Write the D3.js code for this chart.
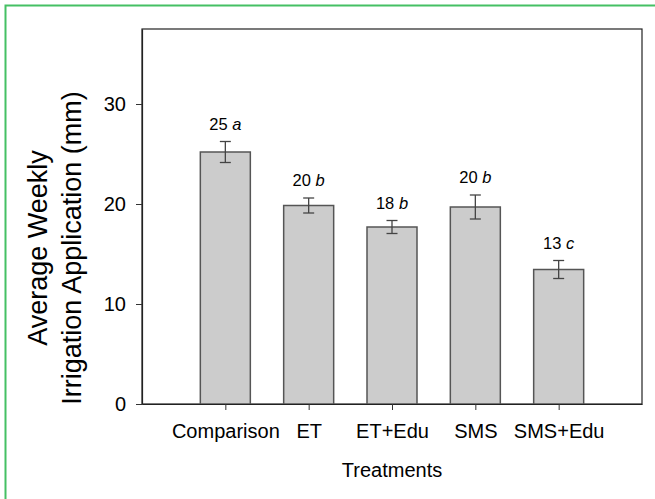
<!DOCTYPE html>
<html>
<head>
<meta charset="utf-8">
<script src="https://cdn.jsdelivr.net/npm/d3@7"></script>
<style>
  body { margin: 0; background: #fff; }
  svg text { font-family: "Liberation Sans", Arial, sans-serif; fill: #000; }
</style>
</head>
<body>
<div id="chart"></div>
<script>
// chart data
const treatments = ["Comparison", "ET", "ET+Edu", "SMS", "SMS+Edu"];
const means = [25.2, 19.85, 17.7, 19.7, 13.45];
const errors = [1.05, 0.75, 0.65, 1.2, 0.9];
const meanLabels = ["25", "20", "18", "20", "13"];
const groupLetters = ["a", "b", "b", "b", "c"];
const yTicks = [0, 10, 20, 30];

const width = 655;
const height = 499;
const margin = { top: 29, left: 142, right: 13, bottom: 95 };

const svg = d3.select("#chart")
    .append("svg")
    .attr("width", width)
    .attr("height", height);

// green page border (runs off the right and bottom edges)
svg.append("path")
    .attr("d", `M5.5,${height} V5.5 H${width}`)
    .attr("fill", "none")
    .attr("stroke", "#45c064")
    .attr("stroke-width", 2);

// x is linear: categories sit at 1..5 on a 0..6 axis
const xScale = d3.scaleLinear()
    .domain([0, treatments.length + 1])
    .range([margin.left, width - margin.right]);

const yScale = d3.scaleLinear()
    .domain([0, 37.5])
    .range([height - margin.bottom, margin.top]);

const barW = 50;

// plot frame
svg.append("rect")
    .attr("x", margin.left)
    .attr("y", margin.top)
    .attr("width", width - margin.left - margin.right)
    .attr("height", height - margin.top - margin.bottom)
    .attr("fill", "none")
    .attr("stroke", "#222")
    .attr("stroke-width", 1.2);

// bars
svg.selectAll("rect.bar")
    .data(means)
    .enter()
    .append("rect")
    .attr("class", "bar")
    .attr("x", (d, i) => xScale(i + 1) - barW / 2)
    .attr("y", d => yScale(d))
    .attr("width", barW)
    .attr("height", d => yScale(0) - yScale(d))
    .attr("fill", "#cccccc")
    .attr("stroke", "#555")
    .attr("stroke-width", 1.5);

// error bars
const err = svg.selectAll("g.err")
    .data(means)
    .enter()
    .append("g")
    .attr("class", "err")
    .attr("stroke", "#444")
    .attr("stroke-width", 1.3);

err.append("line")
    .attr("x1", (d, i) => xScale(i + 1))
    .attr("x2", (d, i) => xScale(i + 1))
    .attr("y1", (d, i) => yScale(d + errors[i]))
    .attr("y2", (d, i) => yScale(d - errors[i]));
err.append("line")
    .attr("x1", (d, i) => xScale(i + 1) - 5.5)
    .attr("x2", (d, i) => xScale(i + 1) + 5.5)
    .attr("y1", (d, i) => yScale(d + errors[i]))
    .attr("y2", (d, i) => yScale(d + errors[i]));
err.append("line")
    .attr("x1", (d, i) => xScale(i + 1) - 5.5)
    .attr("x2", (d, i) => xScale(i + 1) + 5.5)
    .attr("y1", (d, i) => yScale(d - errors[i]))
    .attr("y2", (d, i) => yScale(d - errors[i]));

// mean + letter labels
const lab = svg.selectAll("text.val")
    .data(means)
    .enter()
    .append("text")
    .attr("class", "val")
    .attr("x", (d, i) => xScale(i + 1))
    .attr("y", (d, i) => yScale(d + errors[i]) - 12)
    .attr("text-anchor", "middle")
    .style("font-size", "16.5px");
lab.append("tspan").text((d, i) => meanLabels[i] + " ");
lab.append("tspan").style("font-style", "italic").text((d, i) => groupLetters[i]);

// axes
const xAxis = svg.append("g")
    .attr("transform", `translate(0,${height - margin.bottom})`)
    .call(d3.axisBottom(xScale)
        .tickValues(d3.range(1, treatments.length + 1))
        .tickFormat(d => treatments[d - 1])
        .tickSize(6)
        .tickSizeOuter(0)
        .tickPadding(14));

const yAxis = svg.append("g")
    .attr("transform", `translate(${margin.left},0)`)
    .call(d3.axisLeft(yScale)
        .tickValues(yTicks)
        .tickSize(6)
        .tickSizeOuter(0)
        .tickPadding(10));

svg.selectAll(".domain").attr("stroke", "#222").attr("stroke-width", 1.2);
svg.selectAll(".tick line").attr("stroke", "#333");
svg.selectAll(".tick text")
    .style("font-size", "20px")
    .style("font-family", "'Liberation Sans', Arial, sans-serif")
    .attr("fill", "#000");

// axis titles
svg.append("text")
    .attr("x", (margin.left + width - margin.right) / 2)
    .attr("y", 477)
    .attr("text-anchor", "middle")
    .style("font-size", "20px")
    .text("Treatments");

const yTitle = svg.append("text")
    .attr("transform", "translate(0,248) rotate(-90)")
    .attr("text-anchor", "middle")
    .style("font-size", "27px");
yTitle.append("tspan").attr("x", 0).attr("y", 47).text("Average Weekly");
yTitle.append("tspan").attr("x", 0).attr("y", 81).text("Irrigation Application (mm)");
</script>
</body>
</html>
